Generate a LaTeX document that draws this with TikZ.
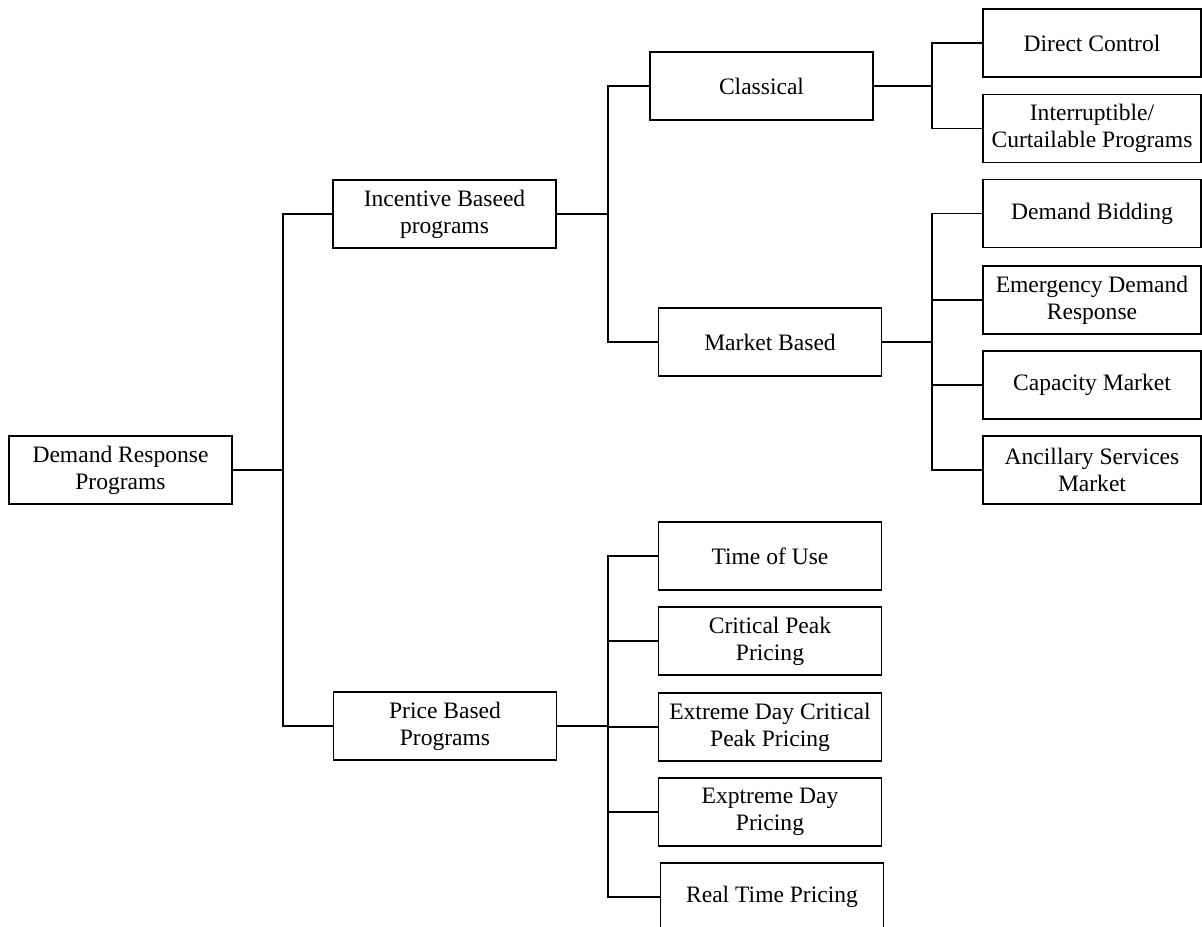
\documentclass[tikz,border=0pt]{standalone}
\usepackage{fontspec}
\setmainfont{Liberation Serif}
\usepackage{tikz}
\usetikzlibrary{positioning,calc}

\begin{document}
\begin{tikzpicture}[
        prog/.style={draw, line width=0.9pt, minimum width=4.46cm, minimum height=1.36cm, align=center, inner sep=1pt, font=\fontsize{13.4}{15.4}\selectfont},
        leaf/.style={prog, minimum width=4.36cm},
        link/.style={line width=0.9pt}
    ]
        \useasboundingbox (0,0) rectangle (24.04,-18.52);

        % Root
        \node[prog] (drp) at (2.41,-9.40) {Demand Response\\Programs};
        \coordinate (j0) at (5.66,-9.40);

        % Second level
        \node[prog] (inc) at (8.89,-4.28) {Incentive Baseed\\programs};
        \node[prog] (pbp) at (8.90,-14.52) {Price Based\\Programs};
        \coordinate (j1) at (12.16,-4.28);
        \coordinate (j2) at (12.16,-14.52);

        % Incentive based
        \node[prog] (cls) at (15.23,-1.72) {Classical};
        \node[prog] (mkt) at (15.40,-6.84) {Market Based};
        \coordinate (j3) at (18.64,-1.72);
        \coordinate (j4) at (18.64,-6.84);

        \node[leaf] (dc) at (21.84,-0.86) {Direct Control};
        \node[leaf] (ic) at (21.84,-2.57) {Interruptible/\\Curtailable Programs};
        \node[leaf] (db) at (21.84,-4.27) {Demand Bidding};
        \node[leaf] (edr) at (21.84,-6.00) {Emergency Demand\\Response};
        \node[leaf] (cm) at (21.84,-7.70) {Capacity Market};
        \node[leaf] (asm) at (21.84,-9.40) {Ancillary Services\\Market};

        % Price based
        \node[prog] (tou) at (15.40,-11.12) {Time of Use};
        \node[prog] (cpp) at (15.40,-12.82) {Critical Peak\\Pricing};
        \node[prog] (edcpp) at (15.40,-14.54) {Extreme Day Critical\\Peak Pricing};
        \node[prog] (edp) at (15.40,-16.24) {Exptreme Day\\Pricing};
        \node[prog] (rtp) at (15.44,-17.94) {Real Time Pricing};

        % Connectors
        \draw[link] (drp.east) -- (j0);
        \draw[link] (inc.west) -| (j0) |- (pbp.west);

        \draw[link] (inc.east) -- (j1);
        \draw[link] (cls.west) -| (j1) |- (mkt.west);

        \draw[link] (cls.east) -- (j3);
        \draw[link] (dc.west) -| (j3) |- (ic.west);

        \draw[link] (mkt.east) -- (j4);
        \draw[link] (db.west) -| (j4) |- (asm.west);
        \draw[link] (j4 |- edr.west) -- (edr.west);
        \draw[link] (j4 |- cm.west) -- (cm.west);

        \draw[link] (pbp.east) -- (j2);
        \draw[link] (tou.west) -| (j2) |- (rtp.west);
        \draw[link] (j2 |- cpp.west) -- (cpp.west);
        \draw[link] (j2 |- edcpp.west) -- (edcpp.west);
        \draw[link] (j2 |- edp.west) -- (edp.west);
    \end{tikzpicture}
\end{document}
